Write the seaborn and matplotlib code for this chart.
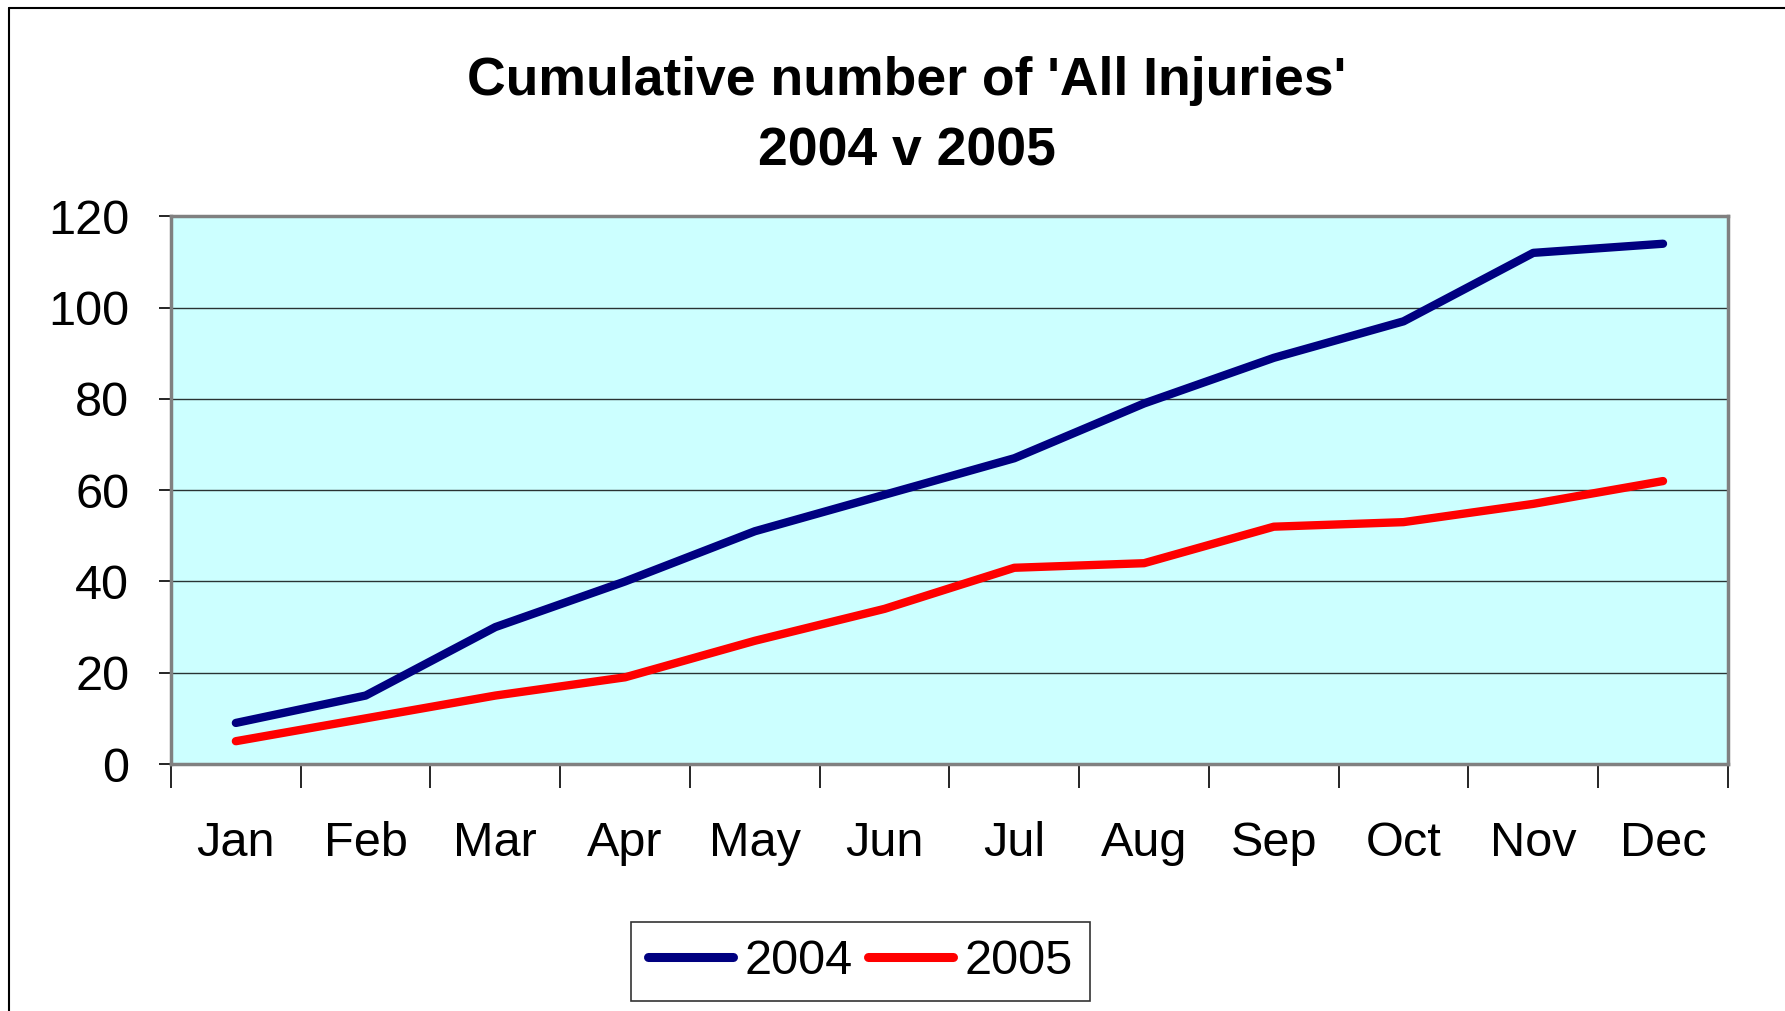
import numpy as np
import pandas as pd
import matplotlib.pyplot as plt
import seaborn as sns
from matplotlib.lines import Line2D

# Data
months = ["Jan", "Feb", "Mar", "Apr", "May", "Jun",
          "Jul", "Aug", "Sep", "Oct", "Nov", "Dec"]
injuries_2004 = [9, 15, 30, 40, 51, 59, 67, 79, 89, 97, 112, 114]
injuries_2005 = [5, 10, 15, 19, 27, 34, 43, 44, 52, 53, 57, 62]
years = ["2004", "2005"]
y_ticks = [0, 20, 40, 60, 80, 100, 120]

df = pd.DataFrame({
    "Month": months * 2,
    "Injuries": injuries_2004 + injuries_2005,
    "Year": [years[0]] * 12 + [years[1]] * 12,
})

sns.set_style("white")
plt.rcParams['font.family'] = ['Liberation Sans', 'DejaVu Sans']
plt.rcParams['text.color'] = 'black'
plt.rcParams['xtick.color'] = 'black'
plt.rcParams['ytick.color'] = 'black'

fig = plt.figure(figsize=(17.85, 10.11), dpi=100)
ax = fig.add_axes([0.0958, 0.2443, 0.8722, 0.5417])
ax.set_facecolor("#CCFFFF")

sns.lineplot(data=df, x="Month", y="Injuries", hue="Year", sort=False,
             palette={"2004": "#000080", "2005": "#FF0000"},
             linewidth=6, ax=ax, legend=False)
for ln in ax.lines:
    ln.set_solid_capstyle("round")
    ln.set_solid_joinstyle("round")

ax.set_xlim(-0.5, 11.5)
ax.set_ylim(0, 120)
ax.set_yticks(y_ticks)
ax.yaxis.grid(True, color="black", linewidth=1.0, alpha=0.8)
ax.set_axisbelow(True)
ax.set_xlabel("")
ax.set_ylabel("")

# month labels centred, tick marks on category boundaries
ax.set_xticks(range(len(months)))
ax.set_xticklabels(months)
ax.set_xticks(np.arange(-0.5, 12, 1), minor=True)
ax.tick_params(axis="x", which="major", length=0, pad=41, labelsize=35,
               labelcolor="black")
ax.tick_params(axis="x", which="minor", length=17, width=1.2,
               color="black", direction="out", bottom=True)
ax.tick_params(axis="y", length=9, width=1.2, color="black",
               direction="out", left=True, pad=21, labelsize=35,
               labelcolor="black")

for sp in ax.spines.values():
    sp.set_color("#808080")
    sp.set_linewidth(2.5)

# title
fig.text(0.508, 0.920, "Cumulative number of 'All Injuries'",
         ha="center", va="center", fontsize=38.5, fontweight="bold", color="black")
fig.text(0.508, 0.850, "2004 v 2005",
         ha="center", va="center", fontsize=38.5, fontweight="bold", color="black")

# legend
handles = [Line2D([0], [0], color="#000080", lw=6.5, solid_capstyle="round"),
           Line2D([0], [0], color="#FF0000", lw=6.5, solid_capstyle="round")]
leg = fig.legend(handles, years, loc="center", bbox_to_anchor=(0.482, 0.0485),
                 ncol=2, fontsize=35, frameon=True, fancybox=False,
                 handlelength=1.75, handletextpad=0.25, columnspacing=0.3,
                 borderpad=0.35, edgecolor="black")
leg.get_frame().set_linewidth(1.2)
for t in leg.get_texts():
    t.set_color("black")

# outer chart border (left and top visible)
fig.add_artist(Line2D([9 / 1785, 9 / 1785], [0, 1 - 8 / 1011],
                      transform=fig.transFigure, color="black", lw=1.5))
fig.add_artist(Line2D([9 / 1785, 1], [1 - 8 / 1011, 1 - 8 / 1011],
                      transform=fig.transFigure, color="black", lw=1.5))

fig.savefig("out.png", dpi=100)
